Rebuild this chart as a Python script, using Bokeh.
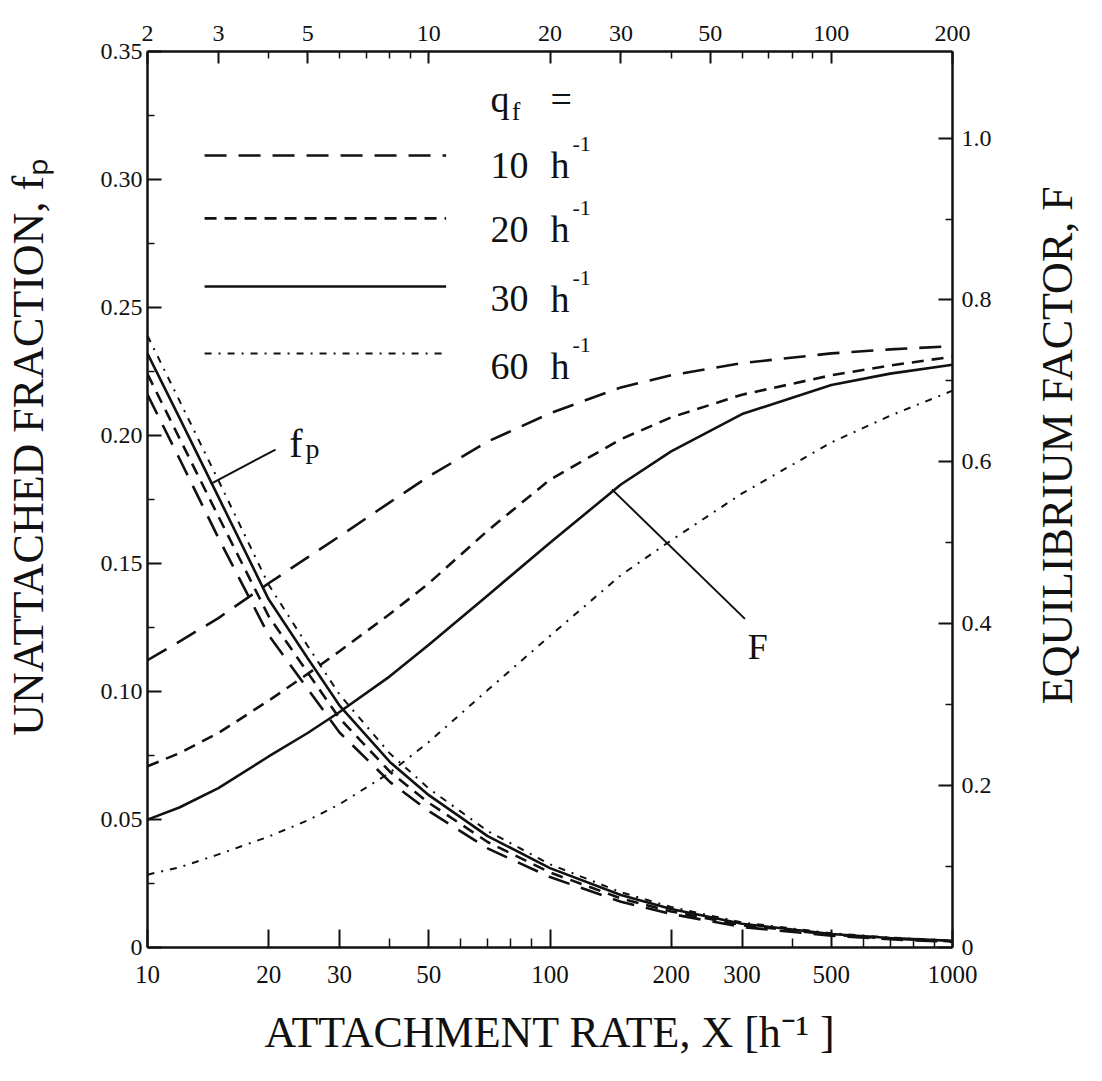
import math
from bokeh.plotting import figure
from bokeh.layouts import row
from bokeh.models import (Range1d, LogAxis, LinearAxis, FixedTicker, LogScale,
                          Label, BasicTickFormatter)
from bokeh.core.properties import value
from bokeh.embed import file_html
from bokeh.resources import INLINE

# ---------------- data ----------------
X = [10, 12, 15, 20, 25, 30, 40, 50, 70, 100, 150, 200, 300, 500, 700, 1000]

# unattached fraction f_p (left axis) for q_f = 10, 20, 30, 60 h^-1
fp_10 = [0.216, 0.191, 0.160, 0.122, 0.101, 0.084, 0.0647, 0.0533, 0.0387, 0.0275, 0.0179, 0.0131, 0.0080, 0.0046, 0.0032, 0.0022]
fp_20 = [0.224, 0.199, 0.1684, 0.1294, 0.1074, 0.0895, 0.0687, 0.0565, 0.0412, 0.0293, 0.0192, 0.0141, 0.0087, 0.0050, 0.0035, 0.0024]
fp_30 = [0.232, 0.207, 0.176, 0.136, 0.113, 0.0945, 0.0725, 0.0595, 0.0435, 0.0310, 0.0205, 0.0150, 0.0093, 0.0053, 0.0037, 0.0026]
fp_60 = [0.239, 0.2137, 0.1825, 0.1417, 0.1178, 0.0988, 0.0758, 0.0621, 0.0455, 0.0325, 0.0216, 0.0158, 0.0098, 0.0056, 0.0039, 0.0027]

# equilibrium factor F (right axis)
F_10 = [0.355, 0.378, 0.407, 0.450, 0.482, 0.508, 0.550, 0.582, 0.625, 0.660, 0.692, 0.707, 0.722, 0.734, 0.739, 0.743]
F_20 = [0.224, 0.240, 0.265, 0.305, 0.338, 0.366, 0.412, 0.450, 0.515, 0.578, 0.628, 0.655, 0.683, 0.707, 0.719, 0.730]
F_30 = [0.158, 0.173, 0.197, 0.236, 0.265, 0.291, 0.335, 0.374, 0.435, 0.500, 0.572, 0.613, 0.659, 0.695, 0.709, 0.720]
F_60 = [0.090, 0.099, 0.115, 0.137, 0.157, 0.177, 0.216, 0.254, 0.318, 0.385, 0.460, 0.503, 0.561, 0.624, 0.657, 0.688]

legend_numbers = ["10", "20", "30", "60"]

bottom_ticks = [10, 20, 30, 50, 100, 200, 300, 500, 1000]
bottom_minor = [40, 60, 70, 80, 90, 400, 600, 700, 800, 900]
top_ticks = [2, 3, 5, 10, 20, 30, 50, 100, 200]
top_minor = [4, 6, 7, 8, 9, 40, 60, 70, 80, 90]
left_ticks = [0, 0.05, 0.10, 0.15, 0.20, 0.25, 0.30, 0.35]
left_labels = ["0", "0.05", "0.10", "0.15", "0.20", "0.25", "0.30", "0.35"]
left_minor = [0.025, 0.075, 0.125, 0.175, 0.225, 0.275, 0.325]
right_ticks = [0, 0.2, 0.4, 0.6, 0.8, 1.0]
right_labels = ["0", "0.2", "0.4", "0.6", "0.8", "1.0"]
right_minor = [0.1, 0.3, 0.5, 0.7, 0.9]

# ---------------- figure ----------------
SERIF = "Liberation Serif"
INK = "#111111"
TITLE = "44px"
H = 1065

p = figure(width=934, height=H, x_axis_type="log",
           x_range=Range1d(10, 1000), y_range=Range1d(0, 0.35),
           output_backend="svg", toolbar_location=None,
           min_border_left=87, min_border_right=42,
           min_border_top=51, min_border_bottom=118,
           background_fill_color="white", border_fill_color="white")
p.outline_line_color = None
p.xgrid.visible = False
p.ygrid.visible = False

p.extra_y_ranges = {"F": Range1d(0, 1.107)}
p.extra_x_ranges = {"top": Range1d(2, 200)}
p.extra_x_scales = {"top": LogScale()}


def style_axis(ax, tick_in, minor_in, font_size):
    ax.axis_line_width = 2.5
    ax.axis_line_color = INK
    ax.major_tick_in = tick_in
    ax.major_tick_out = 0
    ax.minor_tick_in = minor_in
    ax.minor_tick_out = 0
    ax.major_tick_line_width = 2
    ax.minor_tick_line_width = 1.5
    ax.major_tick_line_color = INK
    ax.minor_tick_line_color = INK
    ax.major_label_text_font = SERIF
    ax.major_label_text_font_size = font_size
    ax.major_label_text_color = INK
    ax.axis_label_text_font = SERIF
    ax.axis_label_text_font_style = "normal"
    ax.axis_label_text_font_size = TITLE
    ax.axis_label_text_color = INK


# bottom axis
bx = p.xaxis[0]
bx.ticker = FixedTicker(ticks=bottom_ticks, minor_ticks=bottom_minor)
bx.formatter = BasicTickFormatter(use_scientific=False)
style_axis(bx, 18, 9, "25px")
bx.major_label_standoff = 18
bx.axis_label = "ATTACHMENT RATE, X [h\u207b\u00b9 ]"
bx.axis_label_standoff = 22

# left axis
ly = p.yaxis[0]
ly.ticker = FixedTicker(ticks=left_ticks, minor_ticks=left_minor)
ly.major_label_overrides = {t: s for t, s in zip(left_ticks, left_labels)}
style_axis(ly, 14, 7, "24px")
ly.major_label_standoff = 5

# right axis
ry = LinearAxis(y_range_name="F",
                ticker=FixedTicker(ticks=right_ticks, minor_ticks=right_minor))
ry.major_label_overrides = {t: s for t, s in zip(right_ticks, right_labels)}
style_axis(ry, 14, 7, "24px")
ry.major_label_standoff = 9
p.add_layout(ry, "right")

# top axis
tx = LogAxis(x_range_name="top",
             ticker=FixedTicker(ticks=top_ticks, minor_ticks=top_minor),
             formatter=BasicTickFormatter(use_scientific=False))
style_axis(tx, 12, 7, "24px")
tx.major_label_standoff = 11
p.add_layout(tx, "above")

# ---------------- curves ----------------
styles = [
    dict(line_dash="22 12", line_width=2.6),
    dict(line_dash="12 8", line_width=2.6),
    dict(line_dash="solid", line_width=2.6),
    dict(line_dash="7 7 2 7", line_width=2.0),
]
for fp, st in zip([fp_10, fp_20, fp_30, fp_60], styles):
    p.line(X, fp, line_color=INK, **st)
for F, st in zip([F_10, F_20, F_30, F_60], styles):
    p.line(X, F, line_color=INK, y_range_name="F", **st)

# ---------------- annotations ----------------
# f_p pointer
p.segment(x0=[14.36], y0=[0.1811], x1=[20.8], y1=[0.1945], line_color=INK, line_width=2)
p.add_layout(Label(x=22.5, y=0.1969, text="f", text_font=SERIF, text_font_size="40px",
                   text_color=INK, text_baseline="alphabetic", text_align="left"))
p.add_layout(Label(x=24.68, y=0.1949, text="p", text_font=SERIF, text_font_size="28px",
                   text_color=INK, text_baseline="alphabetic", text_align="left"))

# F pointer
p.segment(x0=[142.5], y0=[0.566], x1=[305], y1=[0.406], line_color=INK, line_width=2,
          y_range_name="F")
p.add_layout(Label(x=328, y=0.371, y_range_name="F", text="F", text_font=SERIF,
                   text_font_size="36px", text_color=INK, text_baseline="middle",
                   text_align="center"))

# legend (hand-drawn)
p.add_layout(Label(x=71.1, y=0.3313, text="q", text_font=SERIF, text_font_size="38px",
                   text_color=INK, text_baseline="alphabetic"))
p.add_layout(Label(x=80.4, y=0.3265, text="f", text_font=SERIF, text_font_size="26px",
                   text_color=INK, text_baseline="alphabetic"))
p.add_layout(Label(x=100.3, y=0.3313, text="=", text_font=SERIF, text_font_size="38px",
                   text_color=INK, text_baseline="alphabetic"))

row_line_y = [0.3094, 0.2848, 0.2582, 0.2320]
row_base_y = [0.3055, 0.2805, 0.2535, 0.2270]
for num, ly_, by_, st in zip(legend_numbers, row_line_y, row_base_y, styles):
    p.line([13.86, 55.2], [ly_, ly_], line_color=INK, **st)
    p.add_layout(Label(x=71.1, y=by_, text=num, text_font=SERIF, text_font_size="38px",
                       text_color=INK, text_baseline="alphabetic"))
    p.add_layout(Label(x=100.3, y=by_, text="h", text_font=SERIF, text_font_size="38px",
                       text_color=INK, text_baseline="alphabetic"))
    p.add_layout(Label(x=113.7, y=by_ + 0.0082, text="-1", text_font=SERIF,
                       text_font_size="22px", text_color=INK,
                       text_baseline="alphabetic"))


# ---------------- side title panels ----------------
def title_panel(width, text, cx, cy_from_top):
    f = figure(width=width, height=H, x_range=Range1d(0, width), y_range=Range1d(0, H),
               output_backend="svg", toolbar_location=None,
               x_axis_location=None, y_axis_location=None, min_border=0,
               background_fill_color="white", border_fill_color="white")
    f.outline_line_color = None
    f.xgrid.visible = False
    f.ygrid.visible = False
    f.text(x=[cx], y=[H - cy_from_top], text=[text], angle=math.pi / 2,
           text_font=value(SERIF), text_font_size=value(TITLE), text_color=INK,
           text_align="center", text_baseline="middle")
    return f


left_panel = title_panel(60, "UNATTACHED FRACTION, f\u209a", 28, 470)
right_panel = title_panel(92, "EQUILIBRIUM FACTOR, F", 63, 468)

layout = row(left_panel, p, right_panel)
open("out.html", "w").write(file_html(layout, INLINE))
